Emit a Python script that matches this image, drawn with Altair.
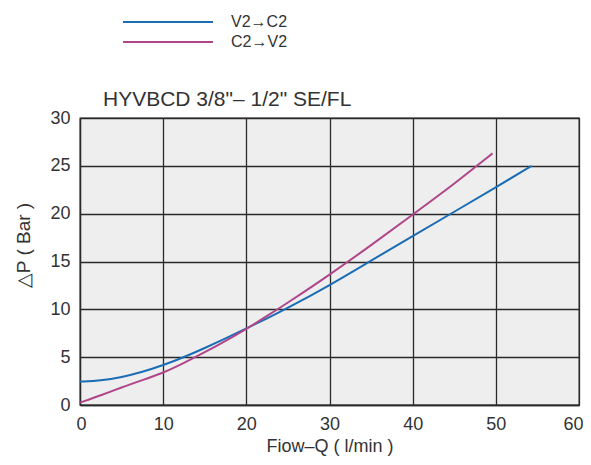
import altair as alt
import pandas as pd

series_names = ["V2→C2", "C2→V2"]
colors = ["#1a6db5", "#b0468a"]

blue_x = [0, 2.5, 5, 7.5, 10, 12.5, 15, 17.5, 20, 22.5, 25, 30, 35, 40, 45, 50, 54.3]
blue_y = [2.45, 2.55, 2.9, 3.45, 4.15, 5.0, 5.95, 6.95, 8.0, 9.05, 10.15, 12.5, 15.1, 17.65, 20.2, 22.75, 25.0]
pink_x = [0, 2.5, 5, 7.5, 10, 12.5, 15, 17.5, 20, 22.5, 25, 30, 35, 40, 45, 49.6]
pink_y = [0.25, 1.0, 1.85, 2.6, 3.35, 4.4, 5.5, 6.7, 7.95, 9.3, 10.7, 13.6, 16.7, 19.9, 23.1, 26.3]

x_ticks = [0, 10, 20, 30, 40, 50, 60]
y_ticks = [0, 5, 10, 15, 20, 25, 30]

title_text = 'HYVBCD 3/8"– 1/2" SE/FL'
x_title = "Fiow–Q ( l/min )"
y_title = "△P ( Bar )"

df = pd.concat([
    pd.DataFrame({"Q": blue_x, "P": blue_y, "series": series_names[0]}),
    pd.DataFrame({"Q": pink_x, "P": pink_y, "series": series_names[1]}),
])

FONT = "Liberation Sans"
TXT = "#333333"

lines = alt.Chart(df).mark_line(strokeWidth=2, interpolate="basis").encode(
    x=alt.X("Q:Q", scale=alt.Scale(domain=[0, 60], nice=False),
            axis=alt.Axis(values=x_ticks, title=x_title, grid=True,
                          labelFlush=True, labelFlushOffset=4)),
    y=alt.Y("P:Q", scale=alt.Scale(domain=[0, 30], nice=False),
            axis=alt.Axis(values=y_ticks, title=y_title, grid=True, titleY=127,
                          labelFlush=False)),
    color=alt.Color("series:N", scale=alt.Scale(domain=series_names, range=colors), legend=None),
    detail="series:N",
)

legend_layers = []
for i, (name, col) in enumerate(zip(series_names, colors)):
    yy = -96 + 20 * i
    legend_layers.append(
        alt.Chart(pd.DataFrame({"series": [name]})).mark_rule(color=col, strokeWidth=2).encode(
            x=alt.value(43), x2=alt.value(133), y=alt.value(yy)
        )
    )
    legend_layers.append(
        alt.Chart(pd.DataFrame({"series": [name]})).mark_text(
            align="left", baseline="middle", fontSize=16, font=FONT, color=TXT
        ).encode(x=alt.value(151), y=alt.value(yy), text="series:N")
    )

title_layer = alt.Chart(pd.DataFrame({"t": [title_text]})).mark_text(
    align="left", baseline="alphabetic", fontSize=21, font=FONT, color=TXT
).encode(x=alt.value(23), y=alt.value(-12), text="t:N")

chart = alt.layer(lines, title_layer, *legend_layers).properties(
    width=499,
    height=287,
    autosize=alt.AutoSizeParams(type="none"),
    padding={"left": 72, "top": 110, "right": 4, "bottom": 52},
).configure_view(
    fill="#eeeeee", stroke="#2a2a2a", strokeWidth=1.3
).configure_axis(
    labelFont=FONT, titleFont=FONT, labelFontSize=18, titleFontSize=19,
    labelColor=TXT, titleColor=TXT, titleFontWeight="normal",
    gridColor="#2a2a2a", gridOpacity=1, gridWidth=1.3,
    domainColor="#2a2a2a", domainWidth=1.3, ticks=False,
).configure_axisX(
    labelPadding=10, titlePadding=4, titleFontSize=18
).configure_axisY(
    labelPadding=10, titlePadding=16
)

chart.save("out.html", embed_options={"renderer": "svg", "actions": False})
